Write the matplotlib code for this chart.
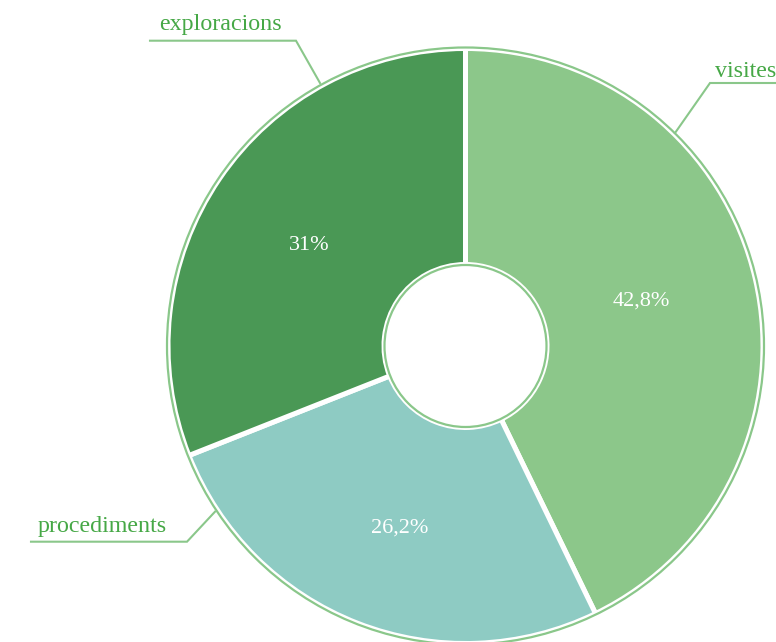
import matplotlib
matplotlib.use("Agg")
import numpy as np
import matplotlib.pyplot as plt
from matplotlib.patches import Circle

# data (clockwise from 12 o'clock)
categories = ["visites", "procediments", "exploracions"]
shares = [42.8, 26.2, 31.0]
colors = ["#8cc78a", "#8ecbc3", "#4a9855"]
pct_radius = [0.61, 0.65, 0.625]   # where each % label sits, as share of radius

line_col = "#8ac78a"
text_col = "#46a846"
W, H = 776, 642

fig = plt.figure(figsize=(W / 100, H / 100), dpi=100)
ax = fig.add_axes([0, 0, 1, 1])


def py(y):
    # image row -> data y
    return H - y


cx, cy = 465.5, py(346)
r_out = 297.5
r_in = 81.5


def fmt_pct(p):
    s = f"{p:.1f}".rstrip("0").rstrip(".")
    return s.replace(".", ",") + "%"


wedges, _, autotexts = ax.pie(
    shares, colors=colors, startangle=90, counterclock=False,
    center=(cx, cy), radius=r_out, autopct=fmt_pct, pctdistance=0.63,
    wedgeprops=dict(width=r_out - r_in, edgecolor="white", linewidth=3.6),
    textprops=dict(color="white", fontsize=16, family="Liberation Serif"),
    frame=True,
)
for w, t, fr in zip(wedges, autotexts, pct_radius):
    mid = np.deg2rad((w.theta1 + w.theta2) / 2 + 1.5)
    t.set_position((cx + fr * r_out * np.cos(mid), cy + fr * r_out * np.sin(mid)))

ax.set_xlim(0, W)
ax.set_ylim(0, H)
ax.set_aspect("equal")
ax.axis("off")

# outer ring and inner hole outlines
ax.add_patch(Circle((cx, cy), 298.5, fill=False, edgecolor=line_col, lw=1.6, zorder=5))
ax.add_patch(Circle((cx, cy), 81, fill=False, edgecolor=line_col, lw=1.6, zorder=5))

# leader lines and category labels
leaders = {
    "exploracions": ([(150, 40.7), (296, 40.7), (320, 83)], (159, 30)),
    "visites": ([(675, 133), (710, 83), (776, 83)], (715, 77)),
    "procediments": ([(31, 541.7), (187, 541.7), (215, 511.7)], (38, 532)),
}
for name in categories:
    pts, (tx, ty) = leaders[name]
    ax.plot([p[0] for p in pts], [py(p[1]) for p in pts], color=line_col, lw=1.5,
            solid_joinstyle="miter", zorder=4, clip_on=False)
    ax.text(tx, py(ty), name, color=text_col, fontsize=17.3, family="Liberation Serif",
            ha="left", va="baseline")

fig.savefig("out.png", dpi=100)
